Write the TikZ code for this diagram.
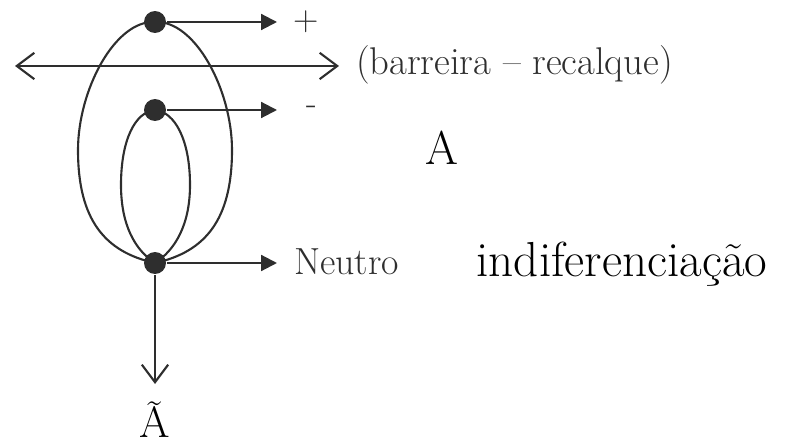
\documentclass[tikz,border=0pt]{standalone}
\usepackage{fontspec}
\usepackage{tikz}
\usetikzlibrary{arrows.meta}

\definecolor{ink}{HTML}{2E2E2E}
\tikzset{
  dot/.style={circle,fill=ink,inner sep=0pt,minimum size=12.5pt},
  vecarrow/.style={-{Triangle[length=9pt,width=9pt]}},
  openarrow/.style={-{Straight Barb[length=10pt,width=15pt]}},
  bothopen/.style={{Straight Barb[length=10pt,width=15pt]}-{Straight Barb[length=10pt,width=15pt]}},
  lbl/.style={inner sep=0pt,text=ink},
  big/.style={inner sep=0pt,text=black},
}

\begin{document}
\begin{tikzpicture}[x=0.02cm,y=-0.02cm,line width=1.2pt,color=ink]
  \clip (0,0) rectangle (793,445);
  % the three poles
  \node[dot] (pos) at (155,22) {};
  \node[dot] (neg) at (155,110) {};
  \node[dot] (neu) at (155,263) {};
  % loops
  \draw (pos.center) .. controls (115,20) and (78,90) .. (78,150) .. controls (78,220) and (105,252) .. (neu.center);
  \draw (pos.center) .. controls (195,20) and (232,90) .. (232,150) .. controls (232,220) and (205,252) .. (neu.center);
  \draw (neg.center) .. controls (135,112) and (121,140) .. (121,185) .. controls (121,225) and (135,250) .. (neu.center);
  \draw (neg.center) .. controls (175,112) and (190,140) .. (190,185) .. controls (190,225) and (175,250) .. (neu.center);
  % labels
  \node[lbl,font=\fontsize{20}{22}\selectfont] (plus) at (306,22) {+};
  \node[lbl,font=\fontsize{20}{22}\selectfont] (minus) at (312,110) {-};
  \node[lbl,anchor=base west,font=\fontsize{22}{24}\selectfont] (barreira) at (355,75) {(barreira – recalque)};
  \node[lbl,anchor=base west,font=\fontsize{21.5}{24}\selectfont] (neutro) at (293,275) {Neutro};
  \node[big,anchor=base,font=\fontsize{27}{30}\selectfont] (A) at (442,165) {A};
  \node[big,anchor=base,font=\fontsize{28}{32}\selectfont] (indif) at (622,277) {indiferenciação};
  \node[big,anchor=base,font=\fontsize{25}{30}\selectfont] (Atil) at (155,437) {Ã};
  % arrows
  \coordinate (posend) at (277,22);
  \coordinate (negend) at (277,110);
  \coordinate (neuend) at (277,263);
  \coordinate (barL) at (15,66);
  \coordinate (barR) at (339,66);
  \coordinate (down) at (155,384);
  \draw[vecarrow] (pos) -- (posend);
  \draw[vecarrow] (neg) -- (negend);
  \draw[vecarrow] (neu) -- (neuend);
  \draw[bothopen] (barL) -- (barR);
  \draw[openarrow] (neu) -- (down);
\end{tikzpicture}
\end{document}
